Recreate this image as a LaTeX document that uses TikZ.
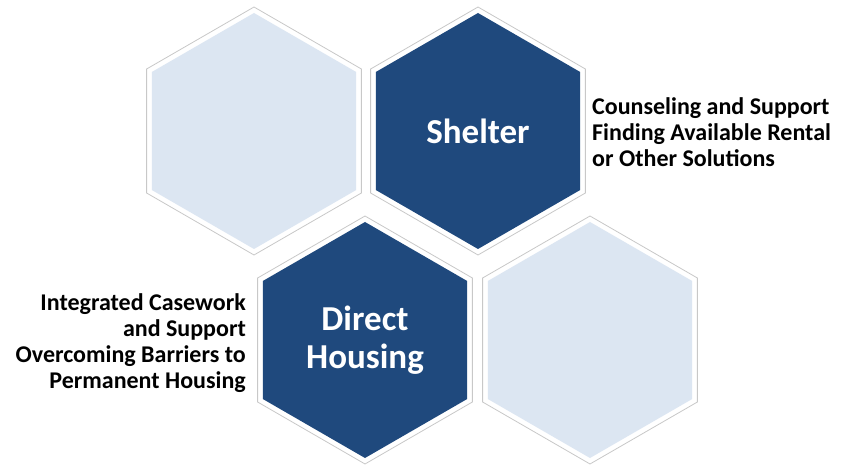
\documentclass[tikz,border=0pt]{standalone}
\usepackage{fontspec}
\setmainfont{Carlito}
\usetikzlibrary{shapes.geometric}
\definecolor{hexdark}{RGB}{31,73,125}
\definecolor{hexlight}{RGB}{220,230,242}
\definecolor{hexrim}{RGB}{200,200,200}

\begin{document}
\begin{tikzpicture}[x=1pt, y=-1pt,
    hexbase/.style={regular polygon, regular polygon sides=6, shape border rotate=30,
        inner sep=0pt, outer sep=0pt},
    rim/.style={hexbase, minimum size=248pt, fill=white, draw=hexrim, line width=0.8pt},
    lighthex/.style={hexbase, minimum size=236pt, fill=hexlight},
    darkhex/.style={hexbase, minimum size=236pt, fill=hexdark, text=white,
        font=\bfseries\fontsize{35}{38}\selectfont, align=center},
    note/.style={font=\bfseries\fontsize{24}{26}\selectfont, inner sep=0pt}]
    \useasboundingbox (0,0) rectangle (844,465);
    % white rims with grey outline
    \node [rim] (rimA) at (254,131) {};
    \node [rim] (rimB) at (478,131) {};
    \node [rim] (rimC) at (365,340) {};
    \node [rim] (rimD) at (590,340) {};
    % filled hexagons
    \node [lighthex] (blankA) at (rimA.center) {};
    \node [darkhex] (shelter) at (rimB.center) {Shelter};
    \node [darkhex] (direct) at (rimC.center) {Direct\\Housing};
    \node [lighthex] (blankB) at (rimD.center) {};
    % descriptions
    \node [note, anchor=west, align=left] (shelternote) at (592,132)
        {Counseling and Support\\Finding Available Rental\\or Other Solutions};
    \node [note, anchor=east, align=right] (directnote) at (246,343)
        {Integrated Casework\\and Support\\Overcoming Barriers to\\Permanent Housing};
\end{tikzpicture}
\end{document}
